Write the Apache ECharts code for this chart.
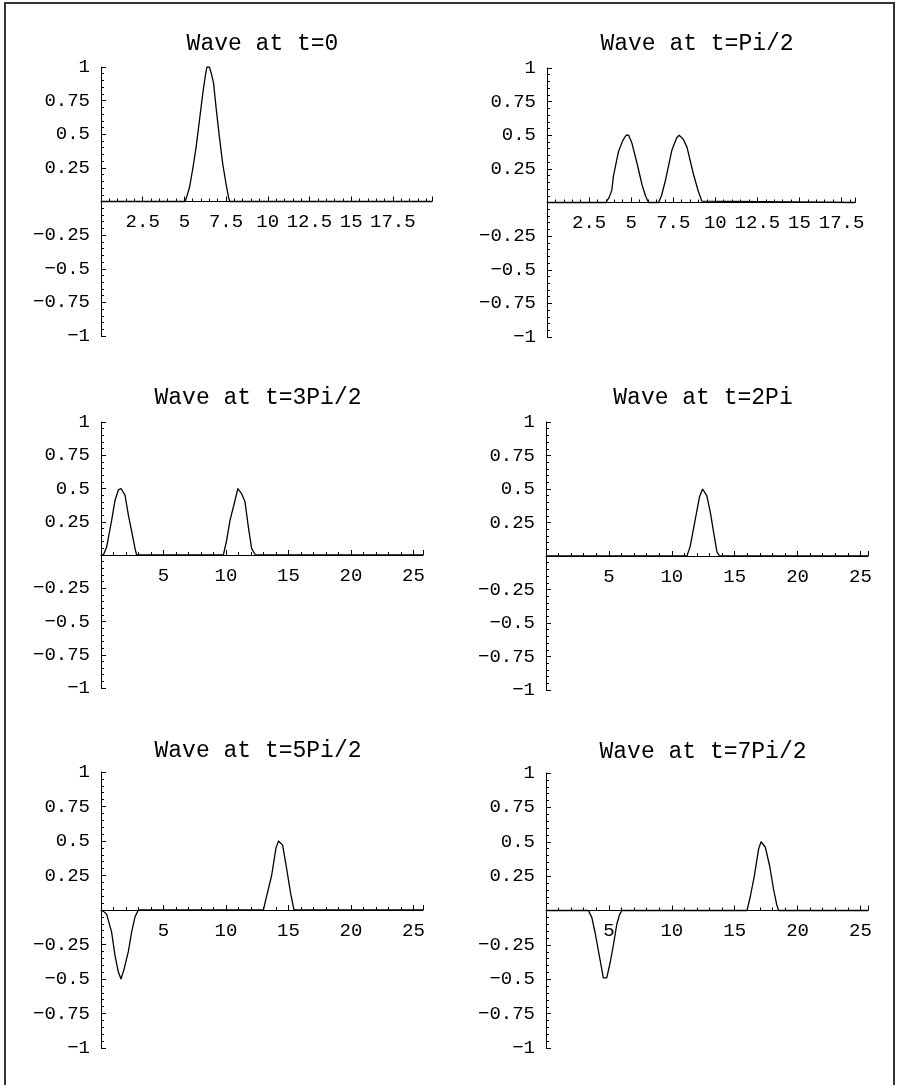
<!DOCTYPE html>
<html>
<head>
<meta charset="utf-8">
<script src="https://cdn.jsdelivr.net/npm/echarts@6/dist/echarts.min.js"></script>
<style>
html,body{margin:0;padding:0;background:#fff;}
#chart{width:897px;height:1085px;}
</style>
</head>
<body>
<div id="chart"></div>
<script>
// ---- data ----
const titles = ['Wave at t=0', 'Wave at t=Pi/2', 'Wave at t=3Pi/2', 'Wave at t=2Pi', 'Wave at t=5Pi/2', 'Wave at t=7Pi/2'];
const xMax = [19.85, 18.3, 25.76, 25.6, 25.76, 25.6];
const xStep = [2.5, 2.5, 5, 5, 5, 5];
const yTickStep = 0.25;

const wave0 = [[0,0],[5.05,0],[5.15,0.04],[5.3,0.1],[5.5,0.24],[5.7,0.4],[5.9,0.6],[6.1,0.8],[6.25,0.93],[6.35,1.0],[6.5,1.0],[6.6,0.96],[6.75,0.88],[6.9,0.7],[7.1,0.48],[7.3,0.28],[7.5,0.13],[7.65,0.03],[7.72,0],[19.85,0]];
const wavePi2 = [[0,0],[3.5,0],[3.7,0.04],[3.85,0.09],[3.95,0.2],[4.25,0.38],[4.5,0.46],[4.7,0.5],[4.85,0.5],[5.05,0.44],[5.35,0.29],[5.65,0.13],[5.85,0.05],[6.03,0],[6.63,0],[6.8,0.05],[7.03,0.16],[7.42,0.39],[7.7,0.48],[7.85,0.5],[7.95,0.5],[8.1,0.47],[8.32,0.41],[8.7,0.21],[9.0,0.08],[9.2,0.01],[9.3,0],[18.3,0]];
const wave3Pi2 = [[0,0],[0.19,0],[0.45,0.06],[0.85,0.26],[1.12,0.41],[1.39,0.49],[1.6,0.5],[1.75,0.49],[1.92,0.45],[2.19,0.3],[2.45,0.18],[2.72,0.05],[2.85,0],[9.79,0],[10.05,0.11],[10.32,0.26],[10.72,0.41],[10.95,0.5],[11.1,0.49],[11.25,0.46],[11.52,0.4],[11.79,0.21],[12.05,0.05],[12.35,0],[25.76,0]];
const wave2Pi = [[0,0],[11.2,0],[11.46,0.07],[11.86,0.27],[12.2,0.44],[12.45,0.5],[12.6,0.5],[12.78,0.45],[13.06,0.33],[13.32,0.18],[13.59,0.03],[13.8,0],[25.6,0]];
const wave5Pi2 = [[0,0],[0.2,-0.01],[0.45,-0.03],[0.85,-0.16],[1.12,-0.33],[1.39,-0.45],[1.6,-0.5],[1.7,-0.49],[1.84,-0.43],[2.19,-0.3],[2.45,-0.16],[2.72,-0.05],[2.99,0],[12.99,0],[13.25,0.1],[13.65,0.25],[14.0,0.45],[14.2,0.5],[14.35,0.5],[14.53,0.47],[14.85,0.3],[15.17,0.12],[15.44,0],[25.76,0]];
const wave7Pi2 = [[0,0],[3.37,0],[3.64,-0.05],[3.9,-0.16],[4.24,-0.33],[4.56,-0.49],[4.7,-0.5],[4.83,-0.49],[5.1,-0.38],[5.36,-0.25],[5.63,-0.1],[5.85,-0.03],[6.03,0],[15.98,0],[16.24,0.1],[16.56,0.25],[16.91,0.45],[17.1,0.5],[17.25,0.5],[17.44,0.46],[17.79,0.32],[18.1,0.15],[18.35,0.04],[18.5,0],[25.6,0]];
const waves = [wave0, wavePi2, wave3Pi2, wave2Pi, wave5Pi2, wave7Pi2];

// ---- layout (pixels) ----
const grids = [
  {left: 101, top: 67,  width: 331, height: 269},
  {left: 547, top: 68,  width: 308, height: 269},
  {left: 101, top: 422, width: 322, height: 266},
  {left: 546, top: 422, width: 322, height: 268},
  {left: 101, top: 772, width: 322, height: 276},
  {left: 546, top: 773, width: 322, height: 275}
];
const titleY = [44, 44, 398, 398, 751, 752];

const FONT = '"Liberation Mono", "DejaVu Sans Mono", monospace';

function fmtNum(v) {
  const a = Number(Math.abs(v).toFixed(3));
  return (v < 0 ? '\u2212' : '') + String(a);
}

const option = {
  animation: false,
  backgroundColor: '#fff',
  title: titles.map((t, i) => ({
    text: t,
    left: grids[i].left + grids[i].width / 2 - 4,
    top: titleY[i] - 12,
    textAlign: 'center',
    padding: 0,
    textStyle: {fontFamily: FONT, fontSize: 23, fontWeight: 'normal', color: '#000'}
  })),
  grid: grids.map(g => Object.assign({outerBoundsMode: 'none', containLabel: false}, g)),
  xAxis: grids.map((g, i) => ({
    type: 'value',
    gridIndex: i,
    position: 'bottom',
    offset: -g.height / 2,
    min: 0,
    max: xMax[i],
    interval: xStep[i],
    splitLine: {show: false},
    axisLine: {show: true, onZero: false, lineStyle: {color: '#000', width: 1}},
    axisTick: {show: true, inside: true, length: 5, lineStyle: {color: '#000', width: 1}},
    minorTick: {show: true, splitNumber: 5, length: 3, lineStyle: {color: '#000', width: 1}},
    minorSplitLine: {show: false},
    axisLabel: {
      show: true, showMaxLabel: false, hideOverlap: false, margin: 11,
      fontFamily: FONT, fontSize: 19, color: '#000',
      formatter: (v) => {
        const s = xStep[i];
        if (Math.abs(v) < 1e-9) return '';
        if (Math.abs(v / s - Math.round(v / s)) > 1e-6) return '';
        return fmtNum(v);
      }
    }
  })),
  yAxis: grids.map((g, i) => ({
    type: 'value',
    gridIndex: i,
    position: 'left',
    min: -1,
    max: 1,
    interval: yTickStep,
    splitLine: {show: false},
    axisLine: {show: true, onZero: false, lineStyle: {color: '#000', width: 1}},
    axisTick: {show: true, inside: true, length: 5, lineStyle: {color: '#000', width: 1}},
    minorTick: {show: true, splitNumber: 5, length: 3, lineStyle: {color: '#000', width: 1}},
    minorSplitLine: {show: false},
    axisLabel: {
      show: true, hideOverlap: false, margin: 11,
      fontFamily: FONT, fontSize: 19, color: '#000',
      formatter: (v) => Math.abs(v) < 1e-9 ? '' : fmtNum(v)
    }
  })),
  series: waves.map((w, i) => ({
    type: 'line',
    xAxisIndex: i,
    yAxisIndex: i,
    data: w,
    showSymbol: false,
    symbol: 'none',
    smooth: false,
    lineStyle: {color: '#000', width: 1.3},
    silent: true
  })),
  graphic: [
    {type: 'rect', shape: {x: 5, y: 3, width: 889, height: 1100},
     style: {fill: 'none', stroke: '#333', lineWidth: 2}, silent: true}
  ]
};

const chart = echarts.init(document.getElementById('chart'), null, {renderer: 'canvas'});
chart.setOption(option);
</script>
</body>
</html>
